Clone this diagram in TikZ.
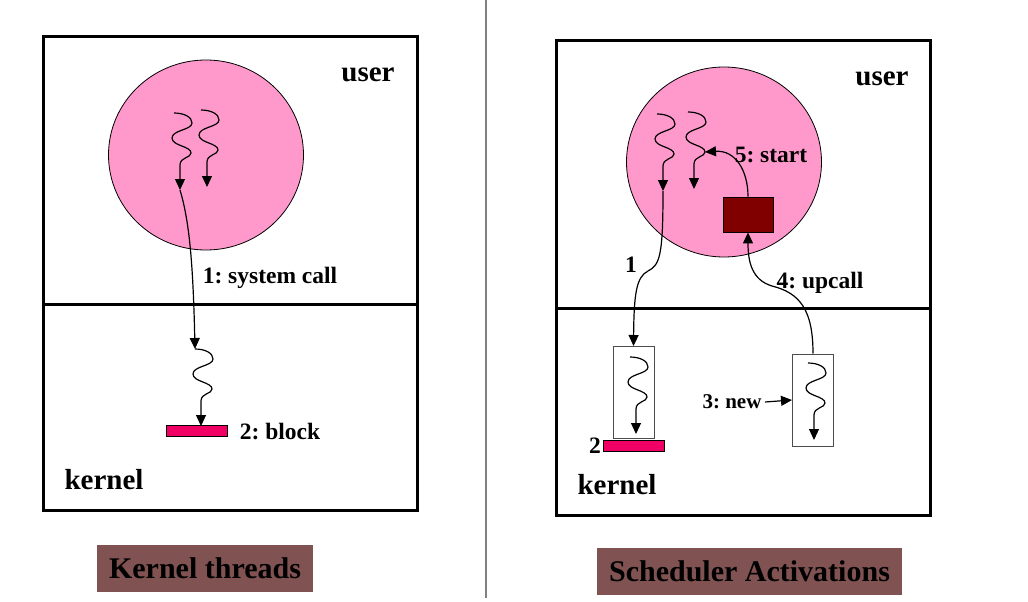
\documentclass[tikz,border=0pt]{standalone}
\usepackage{fontspec}
\setmainfont{Liberation Serif}
\frenchspacing
\usetikzlibrary{arrows.meta,shapes.geometric}
\definecolor{procpink}{RGB}{255,153,204}
\definecolor{blockred}{RGB}{240,0,100}
\definecolor{actred}{RGB}{128,0,0}
\definecolor{capbrown}{RGB}{128,82,82}
\tikzset{
    panel/.style={draw, line width=3pt},
    proc/.style={ellipse, draw, fill=procpink, line width=0.8pt, inner sep=0pt,
        minimum width=195pt, minimum height=190pt},
    lbl/.style={font=\fontsize{23.5}{28}\selectfont\bfseries, inner sep=2pt},
    area/.style={font=\fontsize{29}{34}\selectfont\bfseries, inner sep=0pt},
    caption/.style={fill=capbrown, font=\fontsize{30}{36}\selectfont\bfseries,
        inner sep=0pt},
    bar/.style={draw, fill=blockred, line width=0.8pt, inner sep=0pt,
        minimum width=61pt, minimum height=11pt},
    kthread/.style={draw=black!70, line width=1pt, inner sep=0pt,
        minimum width=41pt, minimum height=92pt},
    thread/.pic={
        \draw[->] (0,0) .. controls (10,0) and (18,4) .. (18,10)
            .. controls (18,17) and (-2,17) .. (-2,25)
            .. controls (-2,33) and (17,33) .. (17,40)
            .. controls (17,45) and (6,44) .. (6,52) -- (6,77);
        \coordinate (-top) at (0,0);
        \coordinate (-knee) at (17,40);
        \coordinate (-tip) at (6,77);
    }
}
\begin{document}
\begin{tikzpicture}[x=1pt,y=-1pt,line width=1.2pt,
    >={Triangle[length=11pt,width=10pt]}]
    \useasboundingbox (0,0) rectangle (1028,602);
    %% Divider
    \draw[gray, line width=1.5pt] (486,0) -- (486,598);
    %% Kernel threads
    \draw[panel] (43,37) rectangle (417,510);
    \draw[panel] (43,304) -- (417,304);
    \node[area] (luser) at (368,75) {user};
    \node[area] (lkernel) at (104,480) {kernel};
    \node[proc] (lproc) at (206,155) {};
    \pic (lt1) at (174,113) {thread};
    \pic (lt2) at (201,110) {thread};
    \pic (lk) at (195,349) {thread};
    \node[bar] (lblock) at (197,430.5) {};
    \draw[->] (lt1-tip) .. controls (189,220) and (193,260) .. (lk-top);
    \node[lbl] (syscall) at (270,278) {1: system call};
    \node[lbl] (block) at (280,432) {2: block};
    \node[caption, minimum width=216pt, minimum height=47pt] (kt) at (205,568.5) {Kernel threads};
    %% Scheduler activations
    \draw[panel] (556,41) rectangle (930,515);
    \draw[panel] (556,308) -- (930,308);
    \node[area] (ruser) at (882,79) {user};
    \node[area] (rkernel) at (617,485) {kernel};
    \node[proc] (rproc) at (724,162) {};
    \pic (rt1) at (657,114) {thread};
    \pic (rt2) at (688,112) {thread};
    \node[draw, fill=actred, line width=0.8pt, inner sep=0pt,
        minimum width=50pt, minimum height=35pt] (act) at (748,214.5) {};
    \node[kthread] (kt1) at (633.5,392.5) {};
    \node[kthread] (kt2) at (813,400) {};
    \pic (rk1) at (630,357) {thread};
    \pic (rk2) at (808,363) {thread};
    \node[bar] (rblock) at (633.5,445.5) {};
    \draw[->] (rt1-tip) .. controls (663,255) and (660,265) .. (648,271)
        .. controls (636,277) and (634,295) .. (kt1.north);
    \draw[->] (kt2.north) .. controls (813,310) and (800,293) .. (772,286)
        .. controls (752,280) and (748,262) .. (act.south);
    \draw[->] (act.north) .. controls (748,170) and (735,150) .. (rt2-knee);
    \node[lbl] (one) at (631,265) {1};
    \node[lbl] (two) at (595,446) {2};
    \node[lbl, font=\fontsize{21}{25}\selectfont\bfseries, inner sep=3pt] (new) at (732,402) {3: new};
    \draw[->] (new.east) -- (kt2.west);
    \node[lbl] (upcall) at (820,283) {4: upcall};
    \node[lbl] (start) at (771,155) {5: start};
    \node[caption, minimum width=305pt, minimum height=47pt] (sa) at (749.5,571.5) {Scheduler Activations};
\end{tikzpicture}
\end{document}
